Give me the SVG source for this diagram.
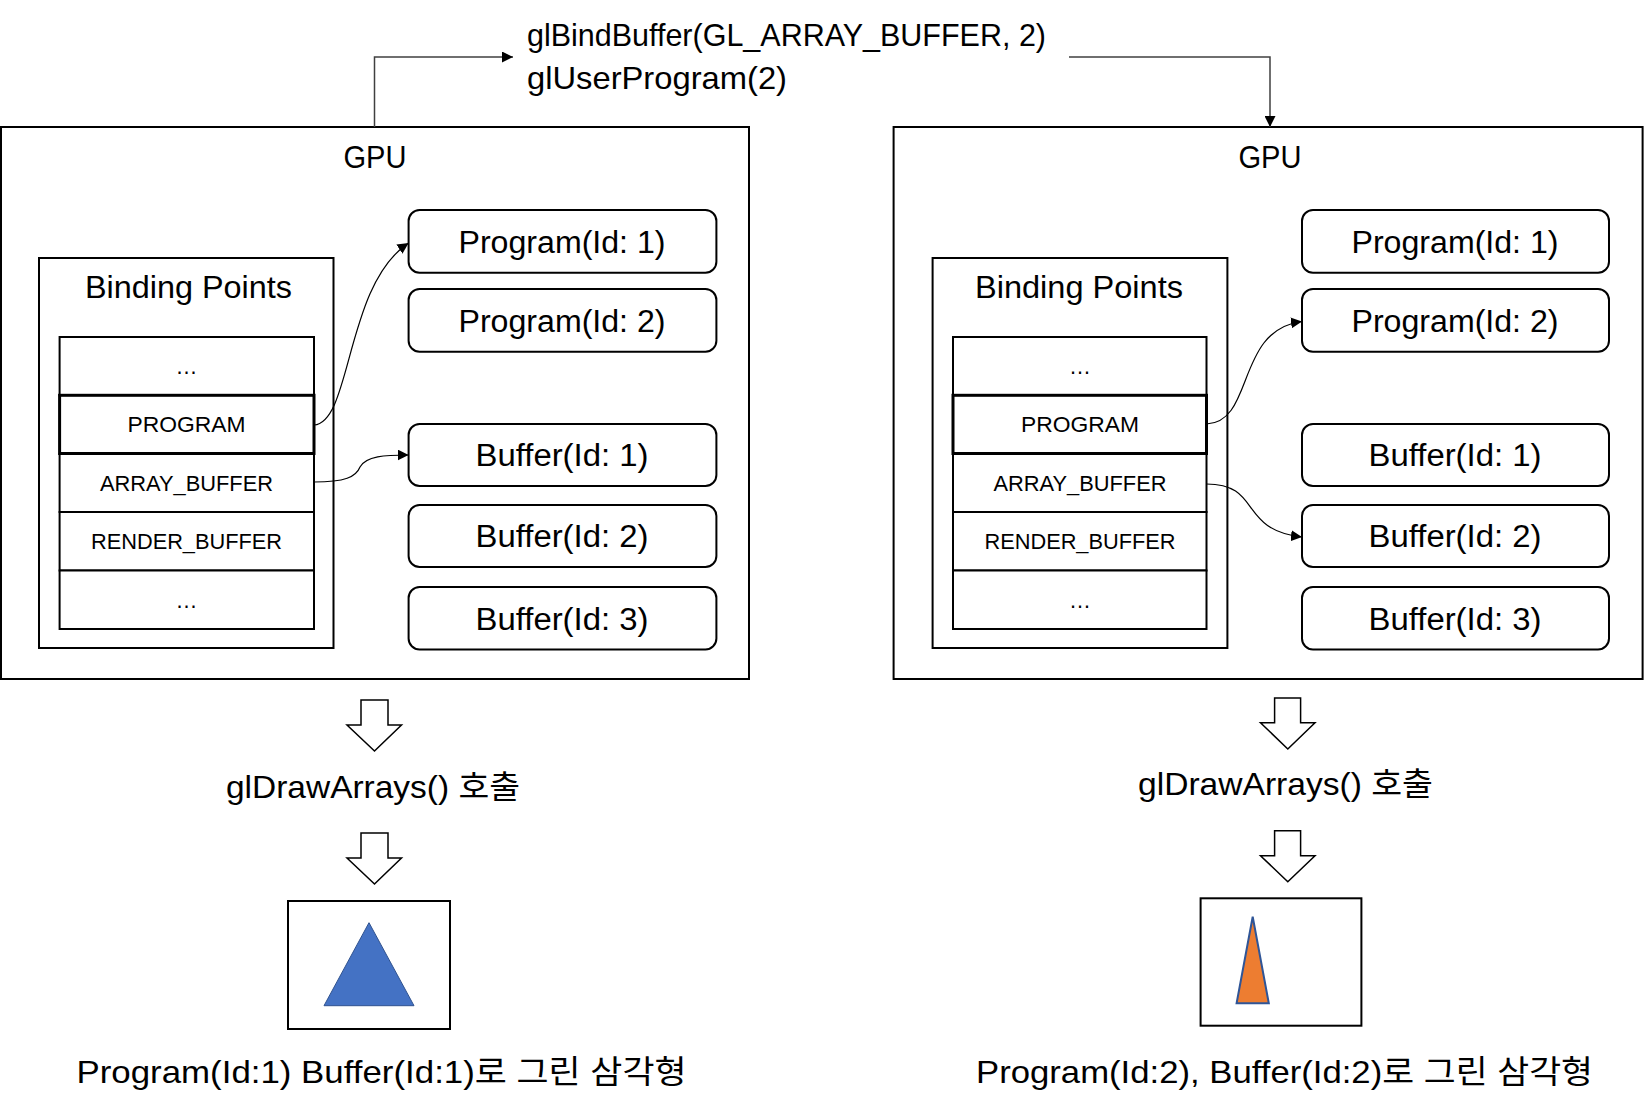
<svg xmlns="http://www.w3.org/2000/svg" width="1644" height="1117" viewBox="0 0 1644 1117">
<style>
  text { font-family: "Liberation Sans", "Noto Sans CJK KR", sans-serif; fill: #000; }
  .big { font-size: 32px; }
  .lbl { font-size: 31px; text-anchor: middle; }
  .row { font-size: 22px; text-anchor: middle; }
  .frame { fill: #fff; stroke: #000; stroke-width: 2; }
  .cell { fill: #fff; stroke: #000; stroke-width: 2; }
  .cellb { fill: #fff; stroke: #000; stroke-width: 3; }
  .obj { fill: #fff; stroke: #000; stroke-width: 2; }
  .conn { fill: none; stroke: #000; stroke-width: 1.2; }
  .elbow { fill: none; stroke: #404040; stroke-width: 1.5; }
  .blk { fill: #fff; stroke: #000; stroke-width: 1.5; stroke-linejoin: miter; }
</style>
<defs>
  <marker id="ah" viewBox="0 0 11 11" markerUnits="userSpaceOnUse" markerWidth="11" markerHeight="11" refX="11" refY="5.5" orient="auto">
    <path d="M0,0 L11,5.5 L0,11 Z" fill="#000"/>
  </marker>
</defs>
<rect width="1644" height="1117" fill="#fff"/>

<!-- top command text -->
<g id="cmd">
  <text class="big" x="527" y="46" textLength="519" lengthAdjust="spacingAndGlyphs">glBindBuffer(GL_ARRAY_BUFFER, 2)</text>
  <text class="big" x="527" y="89" textLength="260" lengthAdjust="spacingAndGlyphs">glUserProgram(2)</text>
</g>

<!-- LEFT GPU -->
<g id="gpu1">
  <rect class="frame" x="1" y="127" width="748" height="552"/>
  <text class="lbl" x="375" y="168" textLength="63" lengthAdjust="spacingAndGlyphs">GPU</text>
</g>
<g id="bp1">
  <rect class="frame" x="39" y="258" width="294.5" height="390"/>
  <text class="lbl" x="188.5" y="298" textLength="207" lengthAdjust="spacingAndGlyphs">Binding Points</text>
</g>
<g id="bp1-rows">
  <rect class="cell" x="59.6" y="337" width="254.4" height="58.3"/>
  <rect class="cell" x="59.6" y="454" width="254.4" height="58"/>
  <rect class="cell" x="59.6" y="512" width="254.4" height="58.5"/>
  <rect class="cell" x="59.6" y="570.5" width="254.4" height="58.5"/>
  <rect class="cellb" x="59.6" y="395.3" width="254.4" height="58.2"/>
  <text class="row" x="186.5" y="374">…</text>
  <text class="row" x="186.5" y="432" textLength="118" lengthAdjust="spacingAndGlyphs">PROGRAM</text>
  <text class="row" x="186.5" y="491" textLength="173" lengthAdjust="spacingAndGlyphs">ARRAY_BUFFER</text>
  <text class="row" x="186.5" y="549" textLength="191" lengthAdjust="spacingAndGlyphs">RENDER_BUFFER</text>
  <text class="row" x="186.5" y="608">…</text>
</g>
<g id="l-prog1">
  <rect class="obj" x="408.6" y="210" width="307.8" height="62.7" rx="11"/>
  <text class="lbl" x="562" y="252.5" textLength="207" lengthAdjust="spacingAndGlyphs">Program(Id: 1)</text>
</g>
<g id="l-prog2">
  <rect class="obj" x="408.6" y="289" width="307.8" height="62.7" rx="11"/>
  <text class="lbl" x="562" y="331.5" textLength="207" lengthAdjust="spacingAndGlyphs">Program(Id: 2)</text>
</g>
<g id="l-buf1">
  <rect class="obj" x="408.6" y="424" width="307.8" height="62" rx="11"/>
  <text class="lbl" x="562" y="466" textLength="173" lengthAdjust="spacingAndGlyphs">Buffer(Id: 1)</text>
</g>
<g id="l-buf2">
  <rect class="obj" x="408.6" y="505" width="307.8" height="62" rx="11"/>
  <text class="lbl" x="562" y="547" textLength="173" lengthAdjust="spacingAndGlyphs">Buffer(Id: 2)</text>
</g>
<g id="l-buf3">
  <rect class="obj" x="408.6" y="587" width="307.8" height="62.5" rx="11"/>
  <text class="lbl" x="562" y="629.5" textLength="173" lengthAdjust="spacingAndGlyphs">Buffer(Id: 3)</text>
</g>

<!-- RIGHT GPU -->
<g id="gpu2">
  <rect class="frame" x="893.6" y="127" width="749" height="552"/>
  <text class="lbl" x="1270" y="168" textLength="63" lengthAdjust="spacingAndGlyphs">GPU</text>
</g>
<g id="bp2">
  <rect class="frame" x="932.6" y="258" width="294.8" height="390"/>
  <text class="lbl" x="1079" y="298" textLength="208" lengthAdjust="spacingAndGlyphs">Binding Points</text>
</g>
<g id="bp2-rows">
  <rect class="cell" x="953" y="337" width="253.5" height="58.3"/>
  <rect class="cell" x="953" y="454" width="253.5" height="58"/>
  <rect class="cell" x="953" y="512" width="253.5" height="58.5"/>
  <rect class="cell" x="953" y="570.5" width="253.5" height="58.5"/>
  <rect class="cellb" x="953" y="395.3" width="253.5" height="58.2"/>
  <text class="row" x="1080" y="374">…</text>
  <text class="row" x="1080" y="432" textLength="118" lengthAdjust="spacingAndGlyphs">PROGRAM</text>
  <text class="row" x="1080" y="491" textLength="173" lengthAdjust="spacingAndGlyphs">ARRAY_BUFFER</text>
  <text class="row" x="1080" y="549" textLength="191" lengthAdjust="spacingAndGlyphs">RENDER_BUFFER</text>
  <text class="row" x="1080" y="608">…</text>
</g>
<g id="r-prog1">
  <rect class="obj" x="1302" y="210" width="307" height="62.7" rx="11"/>
  <text class="lbl" x="1455" y="252.5" textLength="207" lengthAdjust="spacingAndGlyphs">Program(Id: 1)</text>
</g>
<g id="r-prog2">
  <rect class="obj" x="1302" y="289" width="307" height="62.7" rx="11"/>
  <text class="lbl" x="1455" y="331.5" textLength="207" lengthAdjust="spacingAndGlyphs">Program(Id: 2)</text>
</g>
<g id="r-buf1">
  <rect class="obj" x="1302" y="424" width="307" height="62" rx="11"/>
  <text class="lbl" x="1455" y="466" textLength="173" lengthAdjust="spacingAndGlyphs">Buffer(Id: 1)</text>
</g>
<g id="r-buf2">
  <rect class="obj" x="1302" y="505" width="307" height="62" rx="11"/>
  <text class="lbl" x="1455" y="547" textLength="173" lengthAdjust="spacingAndGlyphs">Buffer(Id: 2)</text>
</g>
<g id="r-buf3">
  <rect class="obj" x="1302" y="587" width="307" height="62.5" rx="11"/>
  <text class="lbl" x="1455" y="629.5" textLength="173" lengthAdjust="spacingAndGlyphs">Buffer(Id: 3)</text>
</g>

<!-- bottom flow left -->
<g id="l-arrow1"><path class="blk" d="M361,700 H388 V725 H401.5 L374.5,751 L347,725 H361 Z"/></g>
<g id="l-draw"><text class="big" x="226" y="798" textLength="294" lengthAdjust="spacingAndGlyphs">glDrawArrays() 호출</text></g>
<g id="l-arrow2"><path class="blk" d="M361,833 H388 V858 H401.5 L374.5,884 L347,858 H361 Z"/></g>
<g id="l-result">
  <rect class="frame" x="288" y="901" width="162" height="128"/>
  <polygon points="369,922.7 414,1005.7 324,1005.7" fill="#4472C4" stroke="#2F528F" stroke-width="1"/>
</g>
<g id="l-caption"><text class="big" x="76.5" y="1083" textLength="610" lengthAdjust="spacingAndGlyphs">Program(Id:1) Buffer(Id:1)로 그린 삼각형</text></g>

<!-- bottom flow right -->
<g id="r-arrow1"><path class="blk" d="M1274.6,698 H1300.6 V722.7 H1315 L1287.8,749 L1260.5,722.7 H1274.6 Z"/></g>
<g id="r-draw"><text class="big" x="1138" y="795" textLength="295" lengthAdjust="spacingAndGlyphs">glDrawArrays() 호출</text></g>
<g id="r-arrow2"><path class="blk" d="M1274.6,830.7 H1300.6 V855.7 H1315 L1287.8,881.7 L1260.5,855.7 H1274.6 Z"/></g>
<g id="r-result">
  <rect class="frame" x="1200.6" y="898.3" width="160.8" height="127.4"/>
  <polygon points="1252.7,916.7 1268.8,1003.3 1236.6,1003.3" fill="#ED7D31" stroke="#2F5597" stroke-width="2"/>
</g>
<g id="r-caption"><text class="big" x="976" y="1083" textLength="617" lengthAdjust="spacingAndGlyphs">Program(Id:2), Buffer(Id:2)로 그린 삼각형</text></g>

<!-- connectors -->
<g id="connectors">
  <path class="elbow" d="M374.5,127 V57 H513" marker-end="url(#ah)"/>
  <path class="elbow" d="M1069,57 H1270 V127" marker-end="url(#ah)"/>
  <path class="conn" d="M314,425 C352,422 345,285 408.6,243" marker-end="url(#ah)"/>
  <path class="conn" d="M314,482 C345,482 356,477 360,467 C366,456 385,455 408.6,455" marker-end="url(#ah)"/>
  <path class="conn" d="M1206.5,424 C1255,422 1235,330 1302,321.5" marker-end="url(#ah)"/>
  <path class="conn" d="M1206.5,484 C1262,484 1238,530 1302,537" marker-end="url(#ah)"/>
</g>
</svg>
